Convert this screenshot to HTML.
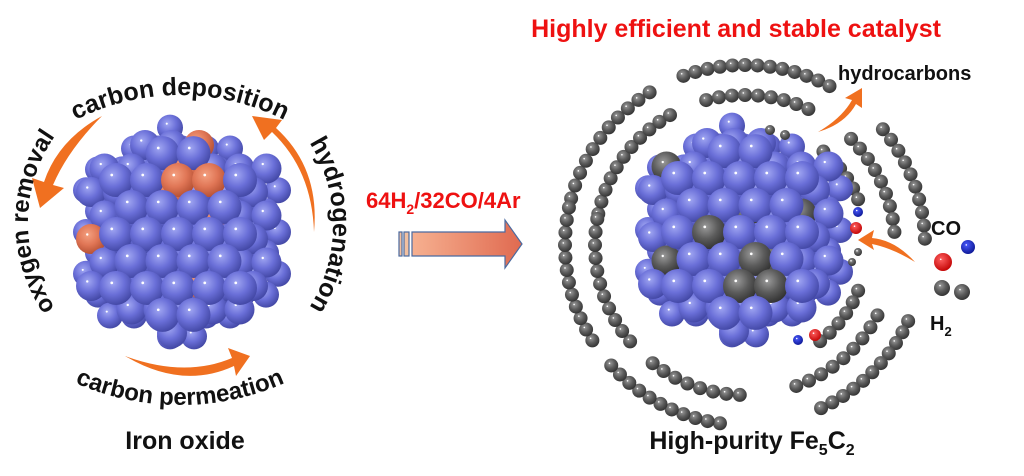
<!DOCTYPE html>
<html><head><meta charset="utf-8"><style>
body{margin:0;background:#fff;width:1024px;height:476px;overflow:hidden}
svg{display:block}
text{font-family:"Liberation Sans",Arial,sans-serif;font-weight:bold}
</style></head><body>
<svg id="s" width="1024" height="476" viewBox="0 0 1024 476" xmlns="http://www.w3.org/2000/svg">
<defs>
<radialGradient id="gb" cx="0.4" cy="0.35" r="0.7"><stop offset="0" stop-color="#a0a6f2"/><stop offset="0.5" stop-color="#6a6fd8"/><stop offset="1" stop-color="#3f44a0"/></radialGradient>
<radialGradient id="go" cx="0.4" cy="0.35" r="0.7"><stop offset="0" stop-color="#f4a080"/><stop offset="0.5" stop-color="#e07656"/><stop offset="1" stop-color="#b04c30"/></radialGradient>
<radialGradient id="gg" cx="0.4" cy="0.35" r="0.7"><stop offset="0" stop-color="#9a9a9a"/><stop offset="0.5" stop-color="#5c5c5c"/><stop offset="1" stop-color="#2e2e2e"/></radialGradient>
<radialGradient id="gr" cx="0.4" cy="0.35" r="0.7"><stop offset="0" stop-color="#ff6060"/><stop offset="1" stop-color="#c00000"/></radialGradient>
<radialGradient id="gn" cx="0.4" cy="0.35" r="0.7"><stop offset="0" stop-color="#4a5aff"/><stop offset="1" stop-color="#0a1590"/></radialGradient>
<linearGradient id="ga" x1="0" x2="1"><stop offset="0" stop-color="#f6b090"/><stop offset="1" stop-color="#e06a50"/></linearGradient>
<path id="pTop" d="M-50,325 A230,230 0 0 1 410,325"/>
<path id="pRight" d="M178,70 A155,155 0 0 1 178,380"/>
<path id="pLeft" d="M178,372 A150,150 0 0 1 178,72"/>
<path id="pBot" d="M-80,145 A260,260 0 0 0 440,145"/>
</defs>
<g id="chains"></g>
<g id="cl"></g><g id="cr"></g><g id="chains2"></g>
<g fill="#f07020">
<path d="M102,116 Q58,140 44,182 L32,178 L40,208 L64,188 L53,185 Q68,150 102,116Z"/>
<path d="M314,232 Q312,170 272,132 L264,140 L252,116 L282,120 L276,128 Q320,168 314,232Z"/>
<path d="M125,356 Q185,378 232,358 L228,348 L250,356 L236,376 L234,366 Q182,390 125,356Z"/>
<path d="M818,132 Q842,118 852,100 L845,98 L862,88 L862,108 L856,104 Q845,124 818,132Z"/>
<path d="M872,238 Q895,240 915,262 Q892,248 872,244 L874,250 L858,240 L874,230Z"/>
</g>
<text font-size="25" fill="#111"><textPath href="#pTop" startOffset="50%" text-anchor="middle">carbon deposition</textPath></text>
<text font-size="25" fill="#111"><textPath href="#pRight" startOffset="50%" text-anchor="middle">hydrogenation</textPath></text>
<text font-size="24" fill="#111"><textPath href="#pLeft" startOffset="50%" text-anchor="middle">oxygen removal</textPath></text>
<text font-size="24" fill="#111"><textPath href="#pBot" startOffset="50%" text-anchor="middle">carbon permeation</textPath></text>
<text x="185" y="449" font-size="25" text-anchor="middle" fill="#111">Iron oxide</text>
<text x="752" y="449" font-size="25" text-anchor="middle" fill="#111">High-purity Fe<tspan font-size="16" dy="6">5</tspan><tspan dy="-6">C</tspan><tspan font-size="16" dy="6">2</tspan></text>
<text x="736" y="37" font-size="25" text-anchor="middle" fill="#ee1111">Highly efficient and stable catalyst</text>
<text x="366" y="208" font-size="22" fill="#ee1111">64H<tspan font-size="14" dy="6">2</tspan><tspan dy="-6">/32CO/4Ar</tspan></text>
<g stroke="#4a6aa0" stroke-width="1.2">
<rect x="399" y="232" width="3" height="24" fill="#f2c0a0"/><rect x="404" y="232" width="5" height="24" fill="#f2c0a0"/>
<path d="M412,232 L505,232 L505,220 L522,244 L505,268 L505,256 L412,256Z" fill="url(#ga)"/>
</g>
<text x="838" y="80" font-size="20" fill="#111">hydrocarbons</text>
<text x="931" y="235" font-size="20" fill="#111">CO</text>
<text x="930" y="330" font-size="20" fill="#111">H<tspan font-size="13" dy="6">2</tspan></text>
<g id="mol"></g>
</svg>
<script>
var NS="http://www.w3.org/2000/svg";
function c(g,x,y,r,f){var e=document.createElementNS(NS,"circle");e.setAttribute("cx",x);e.setAttribute("cy",y);e.setAttribute("r",r);e.setAttribute("fill","url(#"+f+")");g.appendChild(e);var h=document.createElementNS(NS,"circle");h.setAttribute("cx",x-r*0.25);h.setAttribute("cy",y-r*0.3);h.setAttribute("r",Math.max(0.8,r*0.08));h.setAttribute("fill","#fff");g.appendChild(h);}
var seed=7;function rnd(){seed=(seed*9301+49297)%233280;return seed/233280;}
function cluster(id,cx,cy,alt){
 var g=document.getElementById(id);
 var W=114,Hh=124,sl=0.4;
 var layers=[[13,24,-2,4,0],[15,27,5,-6,8],[17,31,0,0,20]];
 layers.forEach(function(L,li){
  var r=L[0],s=L[1],vs=s*0.87,sh=L[4];
  for(var j=-7;j<=7;j++){for(var i=-7;i<=7;i++){
   var x=cx+i*s+((j&1)?s/2:0)+L[3], y=cy+j*vs+L[2];
   var dx=Math.abs(x-cx),dy=Math.abs(y-cy);
   if(dx<=W-r-sh && dy<=Hh-r-sh*0.7-dx*sl){
     var f="gb"; if(li>0 && rnd()<0.13) f=alt;
     c(g,x,y,r,f);
   }
  }}
 });
}
cluster("cl",178,234,"go");
seed=11;
cluster("cr",740,232,"gg");
var gc=document.getElementById("chains"),gc2=document.getElementById("chains2");
function ring(g,cx,cy,rad,segs){segs.forEach(function(s){var n=Math.round((s[1]-s[0])*Math.PI/180*rad/13);for(var i=0;i<=n;i++){var a=(s[0]+(s[1]-s[0])*i/n)*Math.PI/180;c(g,cx+rad*Math.cos(a),cy+rad*Math.sin(a),7,"gg");}});}
ring(gc2,745,245,180,[[-110,-62],[-165,-122],[148,192],[98,138],[-40,-2],[25,65]]);
ring(gc2,745,245,150,[[-105,-65],[-168,-120],[140,190],[92,128],[-45,-5],[28,70]]);
ring(gc,745,245,122,[[-50,-22],[22,52]]);
var m=document.getElementById("mol");
c(m,858,212,5,"gn");c(m,856,228,6,"gr");
c(m,798,340,5,"gn");c(m,815,335,6,"gr");
c(m,943,262,9,"gr");c(m,968,247,7,"gn");
c(m,942,288,8,"gg");c(m,962,292,8,"gg");
c(m,770,130,5,"gg");c(m,785,135,5,"gg");
c(m,858,252,4,"gg");c(m,852,262,4,"gg");
</script>
</body></html>
